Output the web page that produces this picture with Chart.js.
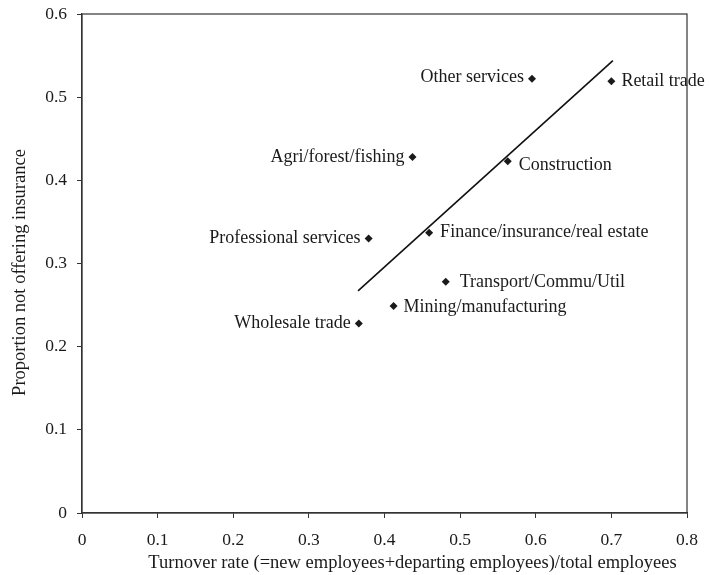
<!DOCTYPE html>
<html><head><meta charset="utf-8">
<script src="https://cdn.jsdelivr.net/npm/chart.js@4.4.1/dist/chart.umd.min.js"></script>
<style>html,body{margin:0;padding:0;background:#fff}#wrap{width:709px;height:575px}</style>
</head><body><div id="wrap"><canvas id="c" width="709" height="575"></canvas></div>
<script>
// Industry-level turnover vs. share of firms not offering health insurance
const industries = [
  'Other services', 'Retail trade', 'Agri/forest/fishing', 'Construction',
  'Professional services', 'Finance/insurance/real estate', 'Transport/Commu/Util',
  'Mining/manufacturing', 'Wholesale trade'
];
const turnoverRate = [0.595, 0.700, 0.437, 0.563, 0.379, 0.459, 0.481, 0.412, 0.366];
const proportionUninsured = [0.522, 0.519, 0.428, 0.423, 0.330, 0.337, 0.278, 0.249, 0.228];
// fitted line endpoints
const trendX = [0.365, 0.702];
const trendY = [0.267, 0.544];
const xTickLabels = ['0', '0.1', '0.2', '0.3', '0.4', '0.5', '0.6', '0.7', '0.8'];
const yTickLabels = ['0', '0.1', '0.2', '0.3', '0.4', '0.5', '0.6'];
const xTitle = 'Turnover rate (=new employees+departing employees)/total employees';
const yTitle = 'Proportion not offering insurance';

const FONT = '"Liberation Serif", "Times New Roman", serif';
const INK = '#1a1a1a';

// which side of its marker each industry name sits on, plus small nudges
const labelPlacement = {
  'Other services': { side: 'left', gap: 8, dy: -2 },
  'Retail trade': { side: 'right', gap: 10, dy: 0 },
  'Agri/forest/fishing': { side: 'left', gap: 8, dy: 0 },
  'Construction': { side: 'right', gap: 11, dy: 4 },
  'Professional services': { side: 'left', gap: 8, dy: 0 },
  'Finance/insurance/real estate': { side: 'right', gap: 11, dy: 0 },
  'Transport/Commu/Util': { side: 'right', gap: 14, dy: 0 },
  'Mining/manufacturing': { side: 'right', gap: 10, dy: 1 },
  'Wholesale trade': { side: 'left', gap: 8, dy: 0 }
};

const pointLabels = {
  id: 'pointLabels',
  afterDatasetsDraw(chart) {
    const { ctx, scales: { x, y } } = chart;
    ctx.save();
    ctx.font = '18px ' + FONT;
    ctx.fillStyle = INK;
    ctx.textBaseline = 'middle';
    industries.forEach((name, i) => {
      const p = labelPlacement[name];
      const px = x.getPixelForValue(turnoverRate[i]);
      const py = y.getPixelForValue(proportionUninsured[i]);
      if (p.side === 'left') {
        ctx.textAlign = 'right';
        ctx.fillText(name, px - p.gap, py + p.dy);
      } else {
        ctx.textAlign = 'left';
        ctx.fillText(name, px + p.gap, py + p.dy);
      }
    });
    ctx.restore();
  }
};

// plot frame plus the two axis titles (set slightly off-centre)
const frame = {
  id: 'frame',
  beforeDatasetsDraw(chart) {
    const { ctx, chartArea: a } = chart;
    ctx.save();
    ctx.strokeStyle = '#333';
    ctx.lineWidth = 1.2;
    ctx.strokeRect(a.left, a.top, a.right - a.left, a.bottom - a.top);
    ctx.fillStyle = INK;
    ctx.font = '18.5px ' + FONT;
    ctx.textAlign = 'center';
    ctx.textBaseline = 'middle';
    ctx.fillText(xTitle, (a.left + a.right) / 2 + 28, a.bottom + 50);
    ctx.translate(20, (a.top + a.bottom) / 2 + 9);
    ctx.rotate(-Math.PI / 2);
    ctx.fillText(yTitle, 0, 0);
    ctx.restore();
  }
};

new Chart(document.getElementById('c'), {
  type: 'scatter',
  data: {
    datasets: [
      {
        label: 'Industries',
        data: turnoverRate.map((v, i) => ({ x: v, y: proportionUninsured[i] })),
        pointStyle: 'rectRot',
        pointRadius: 4,
        backgroundColor: INK,
        borderColor: INK,
        borderWidth: 0
      },
      {
        label: 'Linear fit',
        type: 'line',
        data: trendX.map((v, i) => ({ x: v, y: trendY[i] })),
        borderColor: '#111',
        borderWidth: 1.6,
        pointRadius: 0,
        fill: false
      }
    ]
  },
  options: {
    responsive: false,
    animation: false,
    devicePixelRatio: 1,
    layout: { padding: { top: 14, right: 22, left: 0, bottom: 0 } },
    plugins: { legend: { display: false }, tooltip: { enabled: false } },
    scales: {
      x: {
        type: 'linear', min: 0, max: 0.8,
        afterFit(s) { s.height = 62; s.paddingLeft = 0; s.paddingRight = 0; },
        ticks: {
          stepSize: 0.1, color: INK, padding: 12,
          font: { family: FONT, size: 17.5 },
          callback: (v, i) => xTickLabels[i]
        },
        grid: { drawOnChartArea: false, tickLength: 5, color: '#333' },
        border: { color: '#333', width: 1.2 }
      },
      y: {
        type: 'linear', min: 0, max: 0.6,
        afterFit(s) { s.width = 82; s.paddingTop = 0; s.paddingBottom = 0; },
        ticks: {
          stepSize: 0.1, color: INK, padding: 10,
          font: { family: FONT, size: 17.5 },
          callback: (v, i) => yTickLabels[i]
        },
        grid: { drawOnChartArea: false, tickLength: 5, color: '#333' },
        border: { color: '#333', width: 1.2 }
      }
    }
  },
  plugins: [frame, pointLabels]
});
</script>
</body></html>
